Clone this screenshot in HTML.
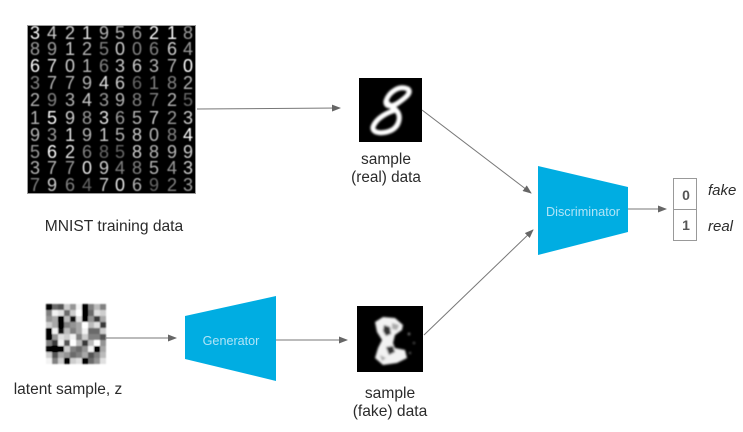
<!DOCTYPE html>
<html><head><meta charset="utf-8"><style>
html,body{margin:0;padding:0;background:#fff;width:743px;height:432px;overflow:hidden}
svg{display:block}
text{font-family:"Liberation Sans",sans-serif}
.l{font-size:15.5px;fill:#2b2b2b;text-anchor:middle}
.d{font-size:18px;fill:#fff;text-anchor:middle}
</style></head><body>
<svg width="743" height="432" viewBox="0 0 743 432" xmlns="http://www.w3.org/2000/svg">
<defs>
<filter id="t" x="-5%" y="-20%" width="110%" height="140%"><feGaussianBlur stdDeviation="0.35"/></filter>
<filter id="b1" x="-5%" y="-5%" width="110%" height="110%"><feGaussianBlur stdDeviation="0.6"/></filter>
<filter id="bl" x="-5%" y="-5%" width="110%" height="110%"><feGaussianBlur stdDeviation="0.7"/><feComponentTransfer><feFuncR type="linear" slope="1.12" intercept="-0.06"/><feFuncG type="linear" slope="1.12" intercept="-0.06"/><feFuncB type="linear" slope="1.12" intercept="-0.06"/></feComponentTransfer></filter>
<filter id="b3" x="-20%" y="-20%" width="140%" height="140%"><feGaussianBlur stdDeviation="1"/></filter>
<marker id="a" markerWidth="9" markerHeight="7" refX="8" refY="3.5" orient="auto" markerUnits="userSpaceOnUse"><path d="M0 0L9 3.5L0 7z" fill="#666"/></marker>
</defs>
<rect x="27.5" y="25.5" width="168" height="168" fill="#000" stroke="#999" stroke-width="1"/>
<g filter="url(#b1)">
<text class="d" x="35" y="39">3</text><text class="d" x="52" y="39" opacity=".8">4</text><text class="d" x="70" y="39" opacity=".8">2</text><text class="d" x="87" y="39" opacity=".9">1</text><text class="d" x="104" y="39" opacity=".7">9</text><text class="d" x="120" y="39" opacity=".7">5</text><text class="d" x="137" y="39" opacity=".6">6</text><text class="d" x="154" y="39">2</text><text class="d" x="172" y="39">1</text><text class="d" x="188" y="39" opacity=".6">8</text>
<text class="d" x="35" y="55" opacity=".6">8</text><text class="d" x="52" y="55" opacity=".6">9</text><text class="d" x="70" y="55" opacity=".8">1</text><text class="d" x="87" y="55" opacity=".7">2</text><text class="d" x="104" y="55" opacity=".5">5</text><text class="d" x="120" y="55" opacity=".8">0</text><text class="d" x="137" y="55" opacity=".5">0</text><text class="d" x="154" y="55" opacity=".5">6</text><text class="d" x="172" y="55" opacity=".8">6</text><text class="d" x="188" y="55" opacity=".6">4</text>
<text class="d" x="35" y="72">6</text><text class="d" x="52" y="72" opacity=".9">7</text><text class="d" x="70" y="72" opacity=".8">0</text><text class="d" x="87" y="72" opacity=".7">1</text><text class="d" x="104" y="72" opacity=".5">6</text><text class="d" x="120" y="72" opacity=".8">3</text><text class="d" x="137" y="72" opacity=".8">6</text><text class="d" x="154" y="72" opacity=".7">3</text><text class="d" x="172" y="72" opacity=".7">7</text><text class="d" x="188" y="72">0</text>
<text class="d" x="35" y="89" opacity=".5">3</text><text class="d" x="52" y="89" opacity=".7">7</text><text class="d" x="70" y="89" opacity=".7">7</text><text class="d" x="87" y="89" opacity=".7">9</text><text class="d" x="104" y="89" opacity=".9">4</text><text class="d" x="120" y="89" opacity=".8">6</text><text class="d" x="137" y="89" opacity=".4">6</text><text class="d" x="154" y="89" opacity=".5">1</text><text class="d" x="172" y="89" opacity=".5">8</text><text class="d" x="188" y="89" opacity=".7">2</text>
<text class="d" x="35" y="106" opacity=".7">2</text><text class="d" x="52" y="106" opacity=".5">9</text><text class="d" x="70" y="106" opacity=".7">3</text><text class="d" x="87" y="106" opacity=".8">4</text><text class="d" x="104" y="106" opacity=".6">3</text><text class="d" x="120" y="106" opacity=".7">9</text><text class="d" x="137" y="106" opacity=".5">8</text><text class="d" x="154" y="106" opacity=".5">7</text><text class="d" x="172" y="106" opacity=".7">2</text><text class="d" x="188" y="106" opacity=".4">5</text>
<text class="d" x="35" y="124" opacity=".7">1</text><text class="d" x="52" y="124">5</text><text class="d" x="70" y="124" opacity=".8">9</text><text class="d" x="87" y="124" opacity=".6">8</text><text class="d" x="104" y="124" opacity=".9">3</text><text class="d" x="120" y="124" opacity=".6">6</text><text class="d" x="137" y="124" opacity=".7">5</text><text class="d" x="154" y="124" opacity=".8">7</text><text class="d" x="172" y="124" opacity=".6">2</text><text class="d" x="188" y="124" opacity=".8">3</text>
<text class="d" x="35" y="141" opacity=".7">9</text><text class="d" x="52" y="141" opacity=".6">3</text><text class="d" x="70" y="141" opacity=".9">1</text><text class="d" x="87" y="141" opacity=".7">9</text><text class="d" x="104" y="141" opacity=".8">1</text><text class="d" x="120" y="141" opacity=".7">5</text><text class="d" x="137" y="141" opacity=".8">8</text><text class="d" x="154" y="141" opacity=".7">0</text><text class="d" x="172" y="141" opacity=".5">8</text><text class="d" x="188" y="141">4</text>
<text class="d" x="35" y="158" opacity=".6">5</text><text class="d" x="52" y="158">6</text><text class="d" x="70" y="158" opacity=".9">2</text><text class="d" x="87" y="158" opacity=".5">6</text><text class="d" x="104" y="158" opacity=".4">8</text><text class="d" x="120" y="158" opacity=".4">5</text><text class="d" x="137" y="158" opacity=".8">8</text><text class="d" x="154" y="158" opacity=".7">8</text><text class="d" x="172" y="158" opacity=".7">9</text><text class="d" x="188" y="158" opacity=".8">9</text>
<text class="d" x="35" y="174" opacity=".7">3</text><text class="d" x="52" y="174" opacity=".7">7</text><text class="d" x="70" y="174" opacity=".6">7</text><text class="d" x="87" y="174" opacity=".9">0</text><text class="d" x="104" y="174" opacity=".8">9</text><text class="d" x="120" y="174" opacity=".5">4</text><text class="d" x="137" y="174" opacity=".5">8</text><text class="d" x="154" y="174" opacity=".7">5</text><text class="d" x="172" y="174" opacity=".6">4</text><text class="d" x="188" y="174" opacity=".8">3</text>
<text class="d" x="35" y="191" opacity=".5">7</text><text class="d" x="52" y="191" opacity=".8">9</text><text class="d" x="70" y="191" opacity=".5">6</text><text class="d" x="87" y="191" opacity=".4">4</text><text class="d" x="104" y="191" opacity=".8">7</text><text class="d" x="120" y="191" opacity=".9">0</text><text class="d" x="137" y="191" opacity=".7">6</text><text class="d" x="154" y="191" opacity=".4">9</text><text class="d" x="172" y="191" opacity=".5">2</text><text class="d" x="188" y="191" opacity=".6">3</text>
</g>
<text class="l" x="114" y="231" filter="url(#t)" style="font-size:15.6px">MNIST training data</text>

<!-- latent -->
<g filter="url(#bl)" shape-rendering="crispEdges">
<rect x="46" y="304" width="6" height="6" fill="#333"/><rect x="52" y="304" width="6" height="6" fill="#777"/><rect x="58" y="304" width="6" height="6" fill="#666"/><rect x="64" y="304" width="6" height="6" fill="#ccc"/><rect x="70" y="304" width="6" height="6" fill="#999"/><rect x="76" y="304" width="6" height="6" fill="#eee"/><rect x="82" y="304" width="6" height="6" fill="#111"/><rect x="88" y="304" width="6" height="6" fill="#888"/><rect x="94" y="304" width="6" height="6" fill="#bbb"/><rect x="100" y="304" width="6" height="6" fill="#888"/>
<rect x="46" y="310" width="6" height="6" fill="#888"/><rect x="52" y="310" width="6" height="6" fill="#eee"/><rect x="58" y="310" width="6" height="6" fill="#ddd"/><rect x="64" y="310" width="6" height="6" fill="#777"/><rect x="70" y="310" width="6" height="6" fill="#ccc"/><rect x="76" y="310" width="6" height="6" fill="#fff"/><rect x="82" y="310" width="6" height="6" fill="#222"/><rect x="88" y="310" width="6" height="6" fill="#777"/><rect x="94" y="310" width="6" height="6" fill="#ddd"/><rect x="100" y="310" width="6" height="6" fill="#ccc"/>
<rect x="46" y="316" width="6" height="6" fill="#999"/><rect x="52" y="316" width="6" height="6" fill="#aaa"/><rect x="58" y="316" width="6" height="6" fill="#111"/><rect x="64" y="316" width="6" height="6" fill="#bbb"/><rect x="70" y="316" width="6" height="6" fill="#444"/><rect x="76" y="316" width="6" height="6" fill="#ddd"/><rect x="82" y="316" width="6" height="6" fill="#333"/><rect x="88" y="316" width="6" height="6" fill="#999"/><rect x="94" y="316" width="6" height="6" fill="#555"/><rect x="100" y="316" width="6" height="6" fill="#aaa"/>
<rect x="46" y="322" width="6" height="6" fill="#ccc"/><rect x="52" y="322" width="6" height="6" fill="#aaa"/><rect x="58" y="322" width="6" height="6" fill="#333"/><rect x="64" y="322" width="6" height="6" fill="#888"/><rect x="70" y="322" width="6" height="6" fill="#999"/><rect x="76" y="322" width="6" height="6" fill="#aaa"/><rect x="82" y="322" width="6" height="6" fill="#fff"/><rect x="88" y="322" width="6" height="6" fill="#bbb"/><rect x="94" y="322" width="6" height="6" fill="#ddd"/><rect x="100" y="322" width="6" height="6" fill="#555"/>
<rect x="46" y="328" width="6" height="6" fill="#111"/><rect x="52" y="328" width="6" height="6" fill="#eee"/><rect x="58" y="328" width="6" height="6" fill="#444"/><rect x="64" y="328" width="6" height="6" fill="#bbb"/><rect x="70" y="328" width="6" height="6" fill="#888"/><rect x="76" y="328" width="6" height="6" fill="#aaa"/><rect x="82" y="328" width="6" height="6" fill="#eee"/><rect x="88" y="328" width="6" height="6" fill="#777"/><rect x="94" y="328" width="6" height="6" fill="#777"/><rect x="100" y="328" width="6" height="6" fill="#ccc"/>
<rect x="46" y="334" width="6" height="6" fill="#111"/><rect x="52" y="334" width="6" height="6" fill="#999"/><rect x="58" y="334" width="6" height="6" fill="#ddd"/><rect x="64" y="334" width="6" height="6" fill="#ccc"/><rect x="70" y="334" width="6" height="6" fill="#eee"/><rect x="76" y="334" width="6" height="6" fill="#888"/><rect x="82" y="334" width="6" height="6" fill="#ccc"/><rect x="88" y="334" width="6" height="6" fill="#888"/><rect x="94" y="334" width="6" height="6" fill="#888"/><rect x="100" y="334" width="6" height="6" fill="#666"/>
<rect x="46" y="340" width="6" height="6" fill="#888"/><rect x="52" y="340" width="6" height="6" fill="#555"/><rect x="58" y="340" width="6" height="6" fill="#eee"/><rect x="64" y="340" width="6" height="6" fill="#666"/><rect x="70" y="340" width="6" height="6" fill="#fff"/><rect x="76" y="340" width="6" height="6" fill="#bbb"/><rect x="82" y="340" width="6" height="6" fill="#555"/><rect x="88" y="340" width="6" height="6" fill="#bbb"/><rect x="94" y="340" width="6" height="6" fill="#fff"/><rect x="100" y="340" width="6" height="6" fill="#999"/>
<rect x="46" y="346" width="6" height="6" fill="#333"/><rect x="52" y="346" width="6" height="6" fill="#222"/><rect x="58" y="346" width="6" height="6" fill="#222"/><rect x="64" y="346" width="6" height="6" fill="#ccc"/><rect x="70" y="346" width="6" height="6" fill="#888"/><rect x="76" y="346" width="6" height="6" fill="#777"/><rect x="82" y="346" width="6" height="6" fill="#999"/><rect x="88" y="346" width="6" height="6" fill="#eee"/><rect x="94" y="346" width="6" height="6" fill="#222"/><rect x="100" y="346" width="6" height="6" fill="#aaa"/>
<rect x="46" y="352" width="6" height="6" fill="#ccc"/><rect x="52" y="352" width="6" height="6" fill="#666"/><rect x="58" y="352" width="6" height="6" fill="#aaa"/><rect x="64" y="352" width="6" height="6" fill="#999"/><rect x="70" y="352" width="6" height="6" fill="#777"/><rect x="76" y="352" width="6" height="6" fill="#888"/><rect x="82" y="352" width="6" height="6" fill="#aaa"/><rect x="88" y="352" width="6" height="6" fill="#666"/><rect x="94" y="352" width="6" height="6" fill="#888"/><rect x="100" y="352" width="6" height="6" fill="#bbb"/>
<rect x="46" y="358" width="6" height="6" fill="#eee"/><rect x="52" y="358" width="6" height="6" fill="#888"/><rect x="58" y="358" width="6" height="6" fill="#ccc"/><rect x="64" y="358" width="6" height="6" fill="#111"/><rect x="70" y="358" width="6" height="6" fill="#ccc"/><rect x="76" y="358" width="6" height="6" fill="#ddd"/><rect x="82" y="358" width="6" height="6" fill="#222"/><rect x="88" y="358" width="6" height="6" fill="#777"/><rect x="94" y="358" width="6" height="6" fill="#999"/><rect x="100" y="358" width="6" height="6" fill="#ddd"/>
</g>
<text class="l" x="68" y="394" filter="url(#t)">latent sample, z</text>

<!-- real sample -->
<rect x="359" y="78" width="63" height="64" fill="#000"/>
<g filter="url(#b3)" fill="none" stroke="#fff" stroke-width="5" stroke-linejoin="round">
<path d="M408 89C399 85 389 92 386 101C385 107 392 107 398 103C405 98 412 93 408 89Z"/>
<path d="M386 101C388 105 392 107 396 110C388 112 376 118 373 127C372 134 384 134 392 130C399 126 402 116 396 110"/>
</g>
<text class="l" x="386" y="164">sample</text>
<text class="l" x="386" y="182" style="font-size:15.3px">(real) data</text>

<!-- fake sample -->
<rect x="357" y="306" width="66" height="66" fill="#000"/>
<g filter="url(#b3)">
<path d="M375 322L383 317L395 318L403 325L402 330L395 335L393 343L395 348L405 350L407 358L397 363L383 365L375 358L378 348L382 340L377 332Z" fill="#f2f2f2"/>
<path d="M384 325L390 327L391 334L386 336L383 331ZM386 347L393 346L395 352L389 355Z" fill="#333"/>
<path d="M392 323L399 325L397 330L392 329ZM380 355L386 358L382 361Z" fill="#aaa"/>
<circle cx="409" cy="334" r="1.2" fill="#999"/><circle cx="414" cy="343" r="1" fill="#777"/><circle cx="410" cy="353" r="1" fill="#888"/>
</g>
<text class="l" x="390" y="398" style="font-size:15.6px">sample</text>
<text class="l" x="390" y="416" style="font-size:15.6px">(fake) data</text>

<!-- shapes -->
<polygon points="185,316 276,296 276,381 185,359" fill="#00ade2"/>
<polygon points="538,166 628,187 628,232 538,255" fill="#00ade2"/>
<text x="231" y="345" text-anchor="middle" fill="#b0e4f7" filter="url(#t)" style="font-size:12.6px">Generator</text>
<text x="583" y="216" text-anchor="middle" fill="#b0e4f7" filter="url(#t)" style="font-size:12.7px">Discriminator</text>

<!-- connectors -->
<g stroke="#777" stroke-width="1" fill="none">
<line x1="197" y1="109" x2="340" y2="108" marker-end="url(#a)"/>
<line x1="422" y1="110" x2="531" y2="193" marker-end="url(#a)"/>
<line x1="424" y1="335" x2="533" y2="230" marker-end="url(#a)"/>
<line x1="106" y1="338" x2="176" y2="338" marker-end="url(#a)"/>
<line x1="276" y1="340" x2="347" y2="340" marker-end="url(#a)"/>
<line x1="628" y1="209" x2="666" y2="209" marker-end="url(#a)"/>
</g>

<!-- output -->
<rect x="673.5" y="178.5" width="23" height="62" fill="#fff" stroke="#999"/>
<line x1="673" y1="209.5" x2="697" y2="209.5" stroke="#999"/>
<text x="686" y="200" text-anchor="middle" fill="#555" font-weight="bold" style="font-size:14px">0</text>
<text x="686" y="230" text-anchor="middle" fill="#555" font-weight="bold" style="font-size:14px">1</text>
<text x="708" y="195" fill="#2b2b2b" font-style="italic" filter="url(#t)" style="font-size:15px">fake</text>
<text x="708" y="231" fill="#2b2b2b" font-style="italic" filter="url(#t)" style="font-size:15px">real</text>
</svg>
</body></html>
